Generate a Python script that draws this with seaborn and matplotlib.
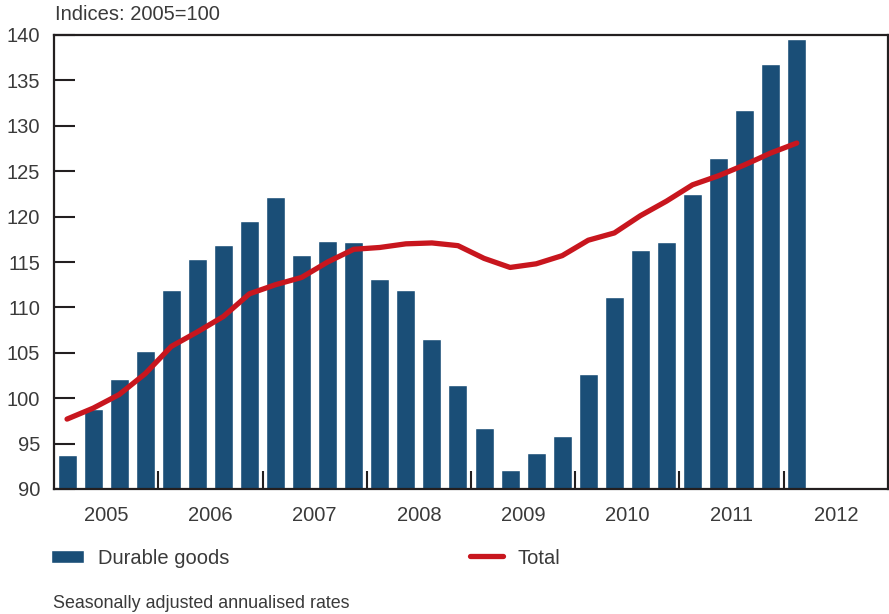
import matplotlib
matplotlib.use("Agg")
import matplotlib.pyplot as plt
import seaborn as sns
import pandas as pd
import numpy as np

# Quarterly index values, 2005 Q1 - 2012 Q1 (2005 = 100)
quarters = [f"{y}Q{q}" for y in range(2005, 2012) for q in range(1, 5)] + ["2012Q1"]
durable_goods = [93.7, 98.8, 102.1, 105.2, 111.9, 115.3, 116.9, 119.5,
                 122.2, 115.8, 117.3, 117.2, 113.1, 111.9, 106.5, 101.5,
                 96.7, 92.1, 94.0, 95.8, 102.7, 111.1, 116.3, 117.2,
                 122.5, 126.5, 131.7, 136.8, 139.6]
total = [97.7, 98.9, 100.4, 102.7, 105.7, 107.3, 109.0, 111.5,
         112.5, 113.3, 115.0, 116.4, 116.6, 117.0, 117.1, 116.8,
         115.4, 114.4, 114.8, 115.7, 117.4, 118.2, 120.1, 121.7,
         123.5, 124.5, 125.7, 127.0, 128.1]
years = ["2005", "2006", "2007", "2008", "2009", "2010", "2011", "2012"]
y_ticks = list(range(90, 141, 5))

BLUE = "#1a4e77"
RED = "#c8161e"
INK = "#231f20"
TEXT = "#3a3a3a"

df = pd.DataFrame({"quarter": quarters,
                   "pos": np.arange(len(quarters)),
                   "durable": durable_goods,
                   "total": total})

sns.set_theme(style="white")
plt.rcParams["font.family"] = ["Liberation Sans", "DejaVu Sans"]

fig = plt.figure(figsize=(8.89, 6.14), dpi=100)
W, H = 889, 614
ax = fig.add_axes([54 / W, (H - 489) / H, (888 - 54) / W, (489 - 35) / H])

sns.barplot(data=df, x="pos", y="durable", color=BLUE, saturation=1,
            width=0.73, errorbar=None, label="Durable goods", ax=ax)
sns.lineplot(data=df, x="pos", y="total", color=RED, linewidth=3.8,
             solid_capstyle="round", label="Total", ax=ax)

n_slots = 4 * len(years)
ax.set_xlim(-0.5, n_slots - 0.5)
ax.set_ylim(y_ticks[0], y_ticks[-1])
ax.set_xlabel("")
ax.set_ylabel("")

# Y axis: inward ticks every 5 points
ax.set_yticks(y_ticks)
ax.set_yticklabels([str(v) for v in y_ticks])
ax.tick_params(axis="y", direction="in", length=15, width=1.5, color=INK,
               pad=10, labelsize=14.5, labelcolor=TEXT, left=True)

# X axis: short separators between years, year labels centred on each year
boundaries = [4 * i - 0.5 for i in range(1, len(years))]
ax.set_xticks(boundaries)
ax.set_xticklabels([])
ax.set_xticks([4 * i + 1.5 for i in range(len(years))], minor=True)
ax.set_xticklabels(years, minor=True)
ax.tick_params(axis="x", which="major", direction="in", length=13, width=1.5,
               color=INK, bottom=True)
ax.tick_params(axis="x", which="minor", length=0, pad=12, labelsize=14.5,
               labelcolor=TEXT)

for side in ["left", "right", "top", "bottom"]:
    ax.spines[side].set_visible(True)
    ax.spines[side].set_color(INK)
    ax.spines[side].set_linewidth(1.6)
ax.grid(False)

handles, labels = ax.get_legend_handles_labels()
ax.get_legend().remove()
hmap = dict(zip(labels, handles))

leg_kw = dict(frameon=False, fontsize=14.5, labelcolor=TEXT, borderaxespad=0,
              borderpad=0, handletextpad=0.7, loc="center left")
fig.legend([hmap["Durable goods"]], ["Durable goods"],
           bbox_to_anchor=(51 / W, 1 - 558 / H), handlelength=1.65,
           handleheight=0.6, **leg_kw)
fig.legend([hmap["Total"]], ["Total"],
           bbox_to_anchor=(470 / W, 1 - 558 / H), handlelength=1.65, **leg_kw)

fig.text(55 / W, 1 - 14 / H, "Indices: 2005=100", fontsize=14.5,
         color=TEXT, va="center", ha="left")
fig.text(53 / W, 1 - 604 / H, "Seasonally adjusted annualised rates",
         fontsize=12.9, color=TEXT, va="center", ha="left")

fig.savefig("out.png", dpi=100)
